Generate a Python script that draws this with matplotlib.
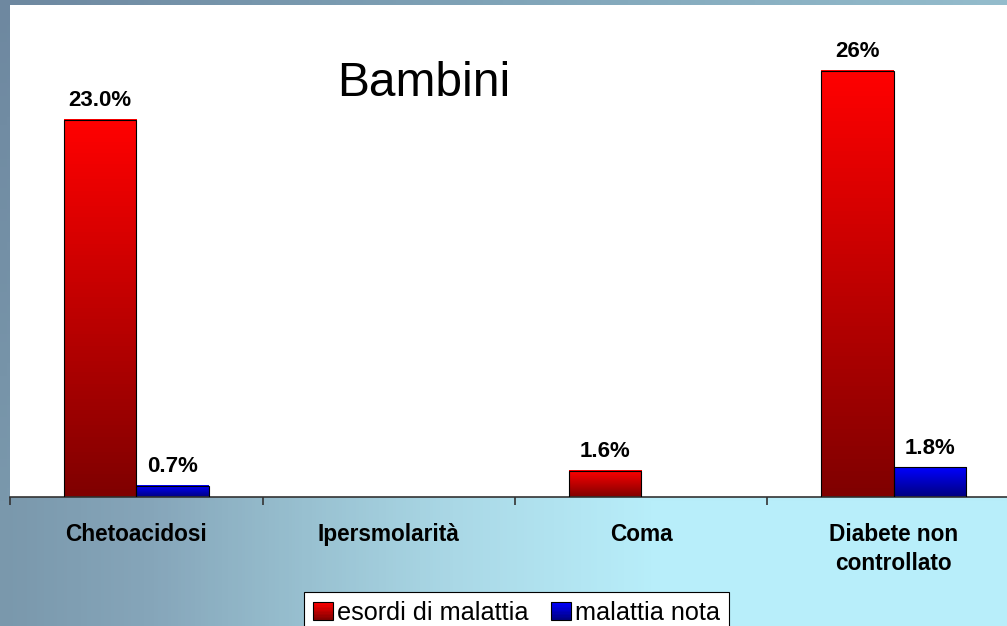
import numpy as np
import matplotlib
matplotlib.use("Agg")
import matplotlib.pyplot as plt
from matplotlib.patches import Rectangle
from matplotlib.legend_handler import HandlerBase
from matplotlib.colors import LinearSegmentedColormap

plt.rcParams["font.family"] = ["Liberation Sans", "DejaVu Sans"]

categories = ["Chetoacidosi", "Ipersmolarità", "Coma", "Diabete non\ncontrollato"]
esordi = [23.0, np.nan, 1.6, 26.0]
nota = [0.7, np.nan, np.nan, 1.8]
esordi_labels = ["23.0%", "", "1.6%", "26%"]
nota_labels = ["0.7%", "", "", "1.8%"]
series_names = ["esordi di malattia", "malattia nota"]

red_cmap = LinearSegmentedColormap.from_list("r", ["#800000", "#ff0000"])
blue_cmap = LinearSegmentedColormap.from_list("b", ["#000080", "#0000ff"])

W, H = 1007, 626
fig = plt.figure(figsize=(W / 100, H / 100), dpi=100)

# background gradient: darker grey-blue at top/left, light cyan at bottom right
top_cmap = LinearSegmentedColormap.from_list(
    "top", [(0, "#6e88a0"), (0.5, "#80a4b8"), (1, "#94bccc")])
bot_cmap = LinearSegmentedColormap.from_list(
    "bot", [(0, "#7a98ac"), (0.15, "#86a6ba"), (0.3, "#98c0d0"),
            (0.45, "#aad8e6"), (0.65, "#b8eefa"), (1, "#b8eefa")])
xs = np.linspace(0, 1, 300)
ys = np.linspace(0, 1, 150)
top_rgb = top_cmap(xs)[:, :3]
bot_rgb = bot_cmap(xs)[:, :3]
wgt = np.clip(ys / 0.8, 0, 1)[:, None, None]
img = (1 - wgt) * top_rgb[None, :, :] + wgt * bot_rgb[None, :, :]
bg = fig.add_axes([0, 0, 1, 1], zorder=-10)
bg.imshow(img, aspect="auto", extent=(0, 1, 0, 1), origin="upper")
bg.axis("off")

ax = fig.add_axes([10 / W, (H - 497) / H, 1010 / W, (497 - 5) / H])
ax.set_facecolor("white")
for s in ["top", "right", "left"]:
    ax.spines[s].set_visible(False)
ax.spines["bottom"].set_color("#333333")
ax.spines["bottom"].set_linewidth(1.2)
ax.set_yticks([])

x = np.arange(len(categories))
bw = 0.288


def grad_bars(xs, vals, cmap):
    bars = ax.bar(xs, vals, bw, facecolor="none", edgecolor="black",
                  linewidth=0.8, zorder=3)
    grad = np.linspace(1, 0, 100).reshape(-1, 1)
    for b, v in zip(bars, vals):
        if np.isnan(v):
            continue
        x0 = b.get_x()
        ax.imshow(grad, cmap=cmap, aspect="auto", zorder=2,
                  extent=(x0, x0 + b.get_width(), 0, v), vmin=0, vmax=1)
    return bars


b1 = grad_bars(x - bw / 2, esordi, red_cmap)
b2 = grad_bars(x + bw / 2, nota, blue_cmap)
ax.set_xlim(-0.5, 3.5)
ax.set_ylim(0, 30)

for bars, labs, vals in [(b1, esordi_labels, esordi), (b2, nota_labels, nota)]:
    for b, lab, v in zip(bars, labs, vals):
        if np.isnan(v):
            continue
        ax.annotate(lab, (b.get_x() + b.get_width() / 2, v),
                    xytext=(0, 6), textcoords="offset points",
                    ha="center", va="bottom", fontsize=16, fontweight="bold")

ax.set_xticks(x)
ax.set_xticklabels(categories, fontsize=16.3, fontweight="bold", linespacing=1.35)
ax.tick_params(axis="x", which="major", length=0, pad=18.5)
ax.set_xticks(np.arange(-0.5, 4, 1), minor=True)
ax.tick_params(axis="x", which="minor", length=6, width=1.2, color="#333333",
               direction="out")

fig.text(424 / W, 1 - 83 / H, "Bambini", fontsize=34.5, ha="center", va="center")


class GradHandler(HandlerBase):
    def __init__(self, cmap):
        super().__init__()
        self.cmap = cmap

    def create_artists(self, legend, orig_handle, xdescent, ydescent,
                       width, height, fontsize, trans):
        arts = []
        n = 12
        for i in range(n):
            r = Rectangle((-xdescent, -ydescent + height * i / n), width,
                          height / n + 0.2, facecolor=self.cmap((i + 0.5) / n),
                          edgecolor="none", transform=trans)
            arts.append(r)
        arts.append(Rectangle((-xdescent, -ydescent), width, height,
                              facecolor="none", edgecolor="black",
                              linewidth=0.8, transform=trans))
        return arts


h1 = Rectangle((0, 0), 1, 1)
h2 = Rectangle((0, 0), 1, 1)
leg = fig.legend([h1, h2], series_names, loc="upper left",
                 bbox_to_anchor=(304 / W, 1 - 592 / H), ncol=2, fontsize=18.2,
                 frameon=True, fancybox=False, framealpha=1, edgecolor="black",
                 handlelength=0.8, handleheight=0.68, handletextpad=0.15,
                 columnspacing=0.9, borderpad=0.35, borderaxespad=0,
                 handler_map={h1: GradHandler(red_cmap), h2: GradHandler(blue_cmap)})
leg.get_frame().set_linewidth(0.8)

fig.savefig("out.png", dpi=100)
